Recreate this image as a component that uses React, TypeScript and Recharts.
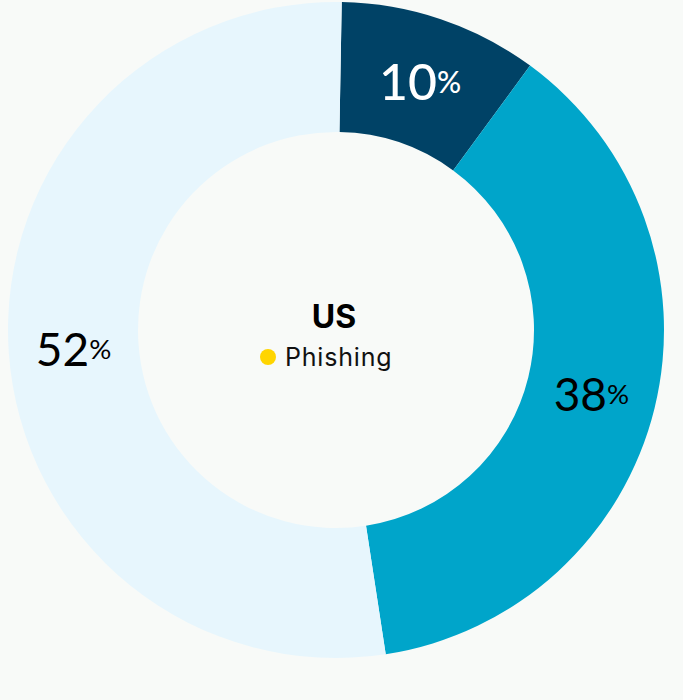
import React from "react";
import { PieChart, Pie, Cell } from "recharts";

const categories = ["Segment A", "Segment B", "Segment C"];
// slice shares
const shares = [9.8, 37.5, 52.7];
// percentage labels as printed
const labels = [10, 38, 52];
const colors = ["#004266", "#00A5CA", "#E7F6FD"];
const labelColors = ["#ffffff", "#000000", "#000000"];
const labelSizes = [50, 46, 46];
const centerTitle = "US";
const centerLegend = "Phishing";

const data = categories.map((name, i) => ({ name, value: shares[i], label: labels[i] }));

const RADIAN = Math.PI / 180;

const renderLabel = (props: any) => {
  const { cx, cy, midAngle, innerRadius, outerRadius, index } = props;
  const r = (innerRadius + outerRadius) / 2;
  const x = cx + r * Math.cos(-midAngle * RADIAN);
  const y = cy + r * Math.sin(-midAngle * RADIAN);
  const size = labelSizes[index];
  return (
    <text
      x={x}
      y={y}
      fill={labelColors[index]}
      textAnchor="middle"
      dominantBaseline="central"
      fontFamily="Lato, Inter, sans-serif"
    >
      <tspan fontSize={size} fontWeight={index === 0 ? 500 : 400}>{data[index].label}</tspan>
      <tspan fontSize={size * 0.6} fontWeight={index === 0 ? 500 : 400}>%</tspan>
    </text>
  );
};

export default function App() {
  return (
    <div style={{ position: "absolute", left: 0, top: 0, width: 683, height: 700, background: "#F8FAF8" }}>
      <PieChart width={683} height={700} margin={{ top: 0, right: 0, bottom: 0, left: 0 }}>
        <Pie
          data={data}
          dataKey="value"
          cx={336}
          cy={330}
          innerRadius={198}
          outerRadius={328}
          startAngle={89}
          endAngle={-271}
          stroke="none"
          label={renderLabel}
          labelLine={false}
          isAnimationActive={false}
        >
          {data.map((d, i) => (
            <Cell key={d.name} fill={colors[i]} />
          ))}
        </Pie>
        <text
          x={334}
          y={316}
          textAnchor="middle"
          dominantBaseline="central"
          fontFamily="Inter, 'Noto Sans', sans-serif"
          fontWeight={700}
          fontSize={32}
          fill="#000"
        >
          {centerTitle}
        </text>
        <circle cx={268} cy={357} r={8} fill="#FFD500" />
        <text
          x={285}
          y={357}
          textAnchor="start"
          dominantBaseline="central"
          fontFamily="Inter, 'Noto Sans', sans-serif"
          fontSize={25}
          letterSpacing={0.8}
          fill="#111"
        >
          {centerLegend}
        </text>
      </PieChart>
    </div>
  );
}
